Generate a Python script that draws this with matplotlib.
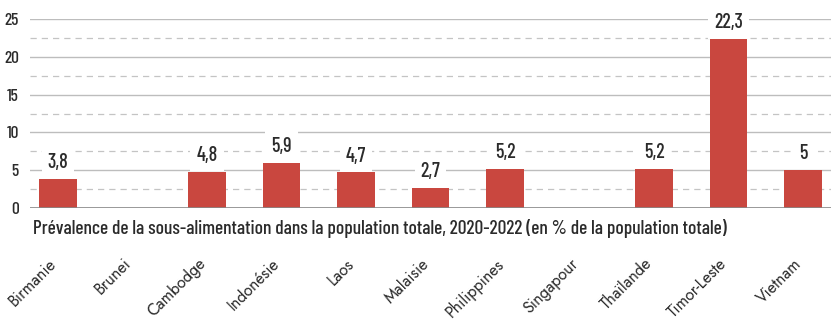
import numpy as np
import matplotlib
matplotlib.use("Agg")
from matplotlib import pyplot as plt
from matplotlib import font_manager
from matplotlib import transforms

pays = ["Birmanie", "Brunei", "Cambodge", "Indonésie", "Laos", "Malaisie",
        "Philippines", "Singapour", "Thaïlande", "Timor-Leste", "Vietnam"]
valeurs = [3.8, np.nan, 4.8, 5.9, 4.7, 2.7, 5.2, np.nan, 5.2, 22.3, 5.0]
etiquettes = ["3,8", "", "4,8", "5,9", "4,7", "2,7", "5,2", "", "5,2", "22,3", "5"]
titre = ("Prévalence de la sous-alimentation dans la population totale, "
         "2020-2022 (en % de la population totale)")

noms = {f.name for f in font_manager.fontManager.ttflist}


def choisir(*familles):
    for f in familles:
        if f in noms:
            return f
    return "DejaVu Sans"


etroit = choisir("Barlow Condensed", "Fira Sans Condensed", "Encode Sans Condensed")
geo = choisir("Jost", "Questrial", "Didact Gothic", "Mulish")

rouge = "#c9473f"
gris = "#2b2b2b"

fig = plt.figure(figsize=(8.31, 3.19), dpi=100)
ax = fig.add_axes([30 / 831, 1 - 208 / 319, 1 - 30 / 831, (208 - 19) / 319])

x = np.arange(len(pays))
ax.bar(x, np.nan_to_num(valeurs), width=0.5, color=rouge, zorder=3)

# grille : pleine tous les 5, pointillés entre
for y in np.arange(5, 26, 5):
    ax.axhline(y, color="#bdbdbd", lw=1.0, zorder=1)
for y in np.arange(2.5, 25, 5):
    ax.axhline(y, color="#c4c4c4", lw=0.9, ls=(0, (5, 4)), zorder=1)
ax.axhline(0, color="#888888", lw=1.2, zorder=4)

for xi, v, lab in zip(x, valeurs, etiquettes):
    if lab:
        ax.annotate(lab, (xi, v), xytext=(0, 5), textcoords="offset points",
                    ha="center", va="bottom", fontsize=14.5, family=etroit,
                    fontweight="medium", color=gris, zorder=5,
                    bbox=dict(boxstyle="square,pad=0.3", fc="white", ec="none"))

ax.set_xlim(-0.376, 10.376)
ax.set_ylim(0, 25)
ax.set_yticks([0, 5, 10, 15, 20, 25])
ax.set_yticklabels(["0", "5", "10", "15", "20", "25"], family=etroit,
                   fontsize=12.5, fontweight="medium", color=gris)
ax.tick_params(axis="y", length=0, pad=8)
ax.set_xticks(x)
ax.set_xticklabels(pays, rotation=45, ha="right", va="top",
                   rotation_mode="anchor", fontsize=11.5, color=gris, family=geo)
ax.tick_params(axis="x", length=0, pad=34)
decal = transforms.ScaledTranslation(-10 / 100, 0, fig.dpi_scale_trans)
for t in ax.get_xticklabels():
    t.set_transform(t.get_transform() + decal)
for s in ax.spines.values():
    s.set_visible(False)

t = fig.text(33 / 831, 1 - 228 / 319, titre, family=etroit, fontsize=14,
             fontweight="medium", color=gris, va="center", ha="left")
# ajuster la taille pour occuper la même largeur que l'original
fig.canvas.draw()
w = t.get_window_extent().width
t.set_fontsize(14 * 694 / w)

fig.savefig("out.png", dpi=100, facecolor="white")
